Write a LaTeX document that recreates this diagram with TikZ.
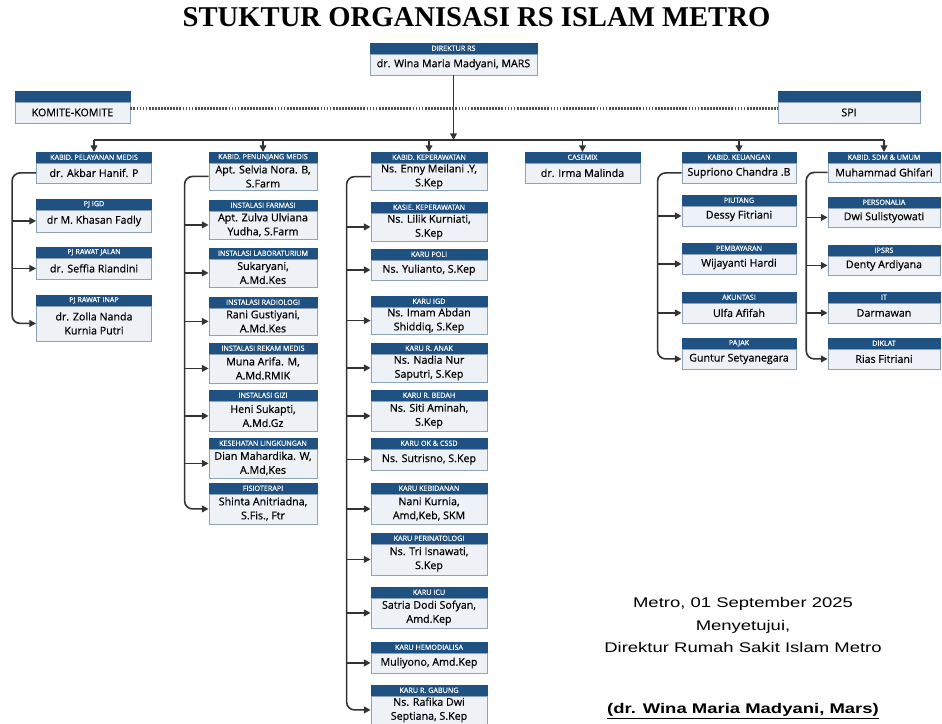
\documentclass[tikz,border=0pt]{standalone}
\usepackage{fontspec}
\setmainfont{Open Sans}
\newfontfamily\isifont[FakeBold=0.6]{Open Sans}
\newfontfamily\judulfont{Liberation Serif}
\newfontfamily\ttdfont[FakeStretch=1.32]{Liberation Sans}
\usetikzlibrary{arrows.meta}

\definecolor{biruTua}{HTML}{1F5283}
\definecolor{abuBiru}{HTML}{8FA3B8}
\definecolor{latar}{HTML}{EEF1F5}
\definecolor{garis}{HTML}{333333}

% kotak jabatan: nama, x tengah, y atas, lebar, tinggi isi, judul, isi
\newcommand{\kotak}[7]{%
	\node[kepala, minimum width=#4*0.75pt] (#1h) at (#2,#3) {#6};
	\node[isi, minimum width=#4*0.75pt, minimum height=#5*0.75pt] (#1) at (#1h.south) {#7};
}

\begin{document}
\begin{tikzpicture}[x=0.75pt, y=-0.75pt]
				\tikzstyle{kepala}=[draw=biruTua, fill=biruTua, text=white, anchor=north, inner sep=0pt, minimum height=7.5pt, font=\isifont\fontsize{5.4}{6}\selectfont]
				\tikzstyle{isi}=[draw=abuBiru, fill=latar, anchor=north, inner sep=1pt, align=center, line width=0.6pt, font=\isifont\fontsize{8}{10.5}\selectfont]
				\tikzstyle{panah}=[draw=garis, line width=1.2pt, -{Triangle[length=5pt, width=5pt]}]
				\tikzstyle{ttd}=[font=\ttdfont\fontsize{10.5}{12}\selectfont]

				\useasboundingbox (0,0) rectangle (942,724);

				\node[font=\judulfont\bfseries\fontsize{21.5}{26}\selectfont] (judul) at (476.5,17) {STUKTUR ORGANISASI RS ISLAM METRO};

				\kotak{dir}{453.5}{43}{167}{21}{DIREKTUR RS}{dr. Wina Maria Madyani, MARS}
				\kotak{kom}{72.5}{91}{115}{21}{}{KOMITE-KOMITE}
				\kotak{spi}{849}{91}{142}{21}{}{SPI}

				% pelayanan medis
				\kotak{k1}{94}{152}{115}{20}{KABID. PELAYANAN MEDIS}{dr. Akbar Hanif. P}
				\kotak{c1a}{94}{199}{115}{22}{PJ IGD}{dr M. Khasan Fadly}
				\kotak{c1b}{94}{247}{115}{21}{PJ RAWAT JALAN}{dr. Seffia Riandini}
				\kotak{c1c}{94}{295}{115}{35}{PJ RAWAT INAP}{dr. Zolla Nanda\\Kurnia Putri}

				% penunjang medis
				\kotak{k2}{263}{152}{108}{27}{KABID. PENUNJANG MEDIS}{Apt. Selvia Nora. B,\\S.Farm}
				\kotak{c2a}{263}{200}{108}{28}{INSTALASI FARMASI}{Apt. Zulva Ulviana\\Yudha, S.Farm}
				\kotak{c2b}{263}{248}{108}{28}{INSTALASI LABORATURIUM}{Sukaryani,\\A.Md.Kes}
				\kotak{c2c}{263}{297}{108}{27}{INSTALASI RADIOLOGI}{Rani Gustiyani,\\A.Md.Kes}
				\kotak{c2d}{263}{343}{108}{29}{INSTALASI REKAM MEDIS}{Muna Arifa. M,\\A.Md.RMIK}
				\kotak{c2e}{263}{390}{108}{30}{INSTALASI GIZI}{Heni Sukapti,\\A.Md.Gz}
				\kotak{c2f}{263}{438}{108}{29}{KESEHATAN LINGKUNGAN}{Dian Mahardika. W,\\A.Md,Kes}
				\kotak{c2g}{263}{483}{108}{30}{FISIOTERAPI}{Shinta Anitriadna,\\S.Fis., Ftr}

				% keperawatan
				\kotak{k3}{429}{152}{116}{27}{KABID. KEPERAWATAN}{Ns. Enny Meilani .Y,\\S.Kep}
				\kotak{c3a}{429}{202}{116}{28}{KASIE. KEPERAWATAN}{Ns. Lilik Kurniati,\\S.Kep}
				\kotak{c3b}{429}{249}{116}{20}{KARU POLI}{Ns. Yulianto, S.Kep}
				\kotak{c3c}{429}{296}{116}{27}{KARU IGD}{Ns. Imam Abdan\\Shiddiq, S.Kep}
				\kotak{c3d}{429}{343}{116}{28}{KARU R. ANAK}{Ns. Nadia Nur\\Saputri, S.Kep}
				\kotak{c3e}{429}{390}{116}{30}{KARU R. BEDAH}{Ns. Siti Aminah,\\S.Kep}
				\kotak{c3f}{429}{438}{116}{21}{KARU OK \& CSSD}{Ns. Sutrisno, S.Kep}
				\kotak{c3g}{429}{483}{116}{30}{KARU KEBIDANAN}{Nani Kurnia,\\Amd,Keb, SKM}
				\kotak{c3h}{429}{533}{116}{31}{KARU PERINATOLOGI}{Ns. Tri Isnawati,\\S.Kep}
				\kotak{c3i}{429}{587}{116}{30}{KARU ICU}{Satria Dodi Sofyan,\\Amd.Kep}
				\kotak{c3j}{429}{642}{116}{20}{KARU HEMODIALISA}{Muliyono, Amd.Kep}
				\kotak{c3k}{429}{685}{116}{28}{KARU R. GABUNG}{Ns. Rafika Dwi\\Septiana, S.Kep}

				% casemix
				\kotak{k4}{582.5}{152}{115}{20}{CASEMIX}{dr. Irma Malinda}

				% keuangan
				\kotak{k5}{739}{152}{114}{20}{KABID. KEUANGAN}{Supriono Chandra .B}
				\kotak{c5a}{739}{195}{114}{20}{PIUTANG}{Dessy Fitriani}
				\kotak{c5b}{739}{243}{114}{20}{PEMBAYARAN}{Wijayanti Hardi}
				\kotak{c5c}{739}{292}{114}{20}{AKUNTASI}{Ulfa Afifah}
				\kotak{c5d}{739}{338}{114}{20}{PAJAK}{Guntur Setyanegara}

				% sdm & umum
				\kotak{k6}{884}{152}{112}{19}{KABID. SDM \& UMUM}{Muhammad Ghifari}
				\kotak{c6a}{884}{197}{112}{19}{PERSONALIA}{Dwi Sulistyowati}
				\kotak{c6b}{884}{245}{112}{19}{IPSRS}{Denty Ardiyana}
				\kotak{c6c}{884}{292}{112}{20}{IT}{Darmawan}
				\kotak{c6d}{884}{338}{112}{20}{DIKLAT}{Rias Fitriani}

				% garis komando
				\coordinate (bus) at (453.5,140);
				\draw[panah] (dir.south) -- (dir.south |- bus);
				\draw[draw=garis, line width=1.2pt] (k1h.north |- bus) -- (k6h.north |- bus);
				\foreach \kol in {k1,k2,k3,k4,k5,k6}
					\draw[panah] (\kol h.north |- bus) -- (\kol h.north);
				\draw[draw=garis!85, line width=1.6pt, dash pattern=on 1.3pt off 1pt] ([yshift=3pt]kom.east) -- ([yshift=3pt]spi.west);

				\coordinate (s1) at ([xshift=-18pt]k1.west);
				\draw[panah, rounded corners=6pt] (k1.west) -- (s1) |- (c1c.west);
				\foreach \anak in {c1a,c1b}
					\draw[panah] (s1 |- \anak.west) -- (\anak.west);

				\coordinate (s2) at ([xshift=-18pt]k2.west);
				\draw[panah, rounded corners=6pt] (k2.west) -- (s2) |- (c2g.west);
				\foreach \anak in {c2a,c2b,c2c,c2d,c2e,c2f}
					\draw[panah] (s2 |- \anak.west) -- (\anak.west);

				\coordinate (s3) at ([xshift=-18pt]k3.west);
				\draw[panah, rounded corners=6pt] (k3.west) -- (s3) |- (c3k.west);
				\foreach \anak in {c3a,c3b,c3c,c3d,c3e,c3f,c3g,c3h,c3i,c3j}
					\draw[panah] (s3 |- \anak.west) -- (\anak.west);

				\coordinate (s5) at ([xshift=-18pt]k5.west);
				\draw[panah, rounded corners=6pt] (k5.west) -- (s5) |- (c5d.west);
				\foreach \anak in {c5a,c5b,c5c}
					\draw[panah] (s5 |- \anak.west) -- (\anak.west);

				\coordinate (s6) at ([xshift=-16pt]k6.west);
				\draw[panah, rounded corners=6pt] (k6.west) -- (s6) |- (c6d.west);
				\foreach \anak in {c6a,c6b,c6c}
					\draw[panah] (s6 |- \anak.west) -- (\anak.west);

				% pengesahan
				\node[ttd] (tempat) at (743,604) {Metro, 01 September 2025};
				\node[ttd] (setuju) at (743,627) {Menyetujui,};
				\node[ttd] (jabatan) at (743,647) {Direktur Rumah Sakit Islam Metro};
				\node[ttd, font=\ttdfont\bfseries\fontsize{10.5}{12}\selectfont] (nama) at (743,711) {\underline{(dr. Wina Maria Madyani, Mars)}};
			\end{tikzpicture}
\end{document}
